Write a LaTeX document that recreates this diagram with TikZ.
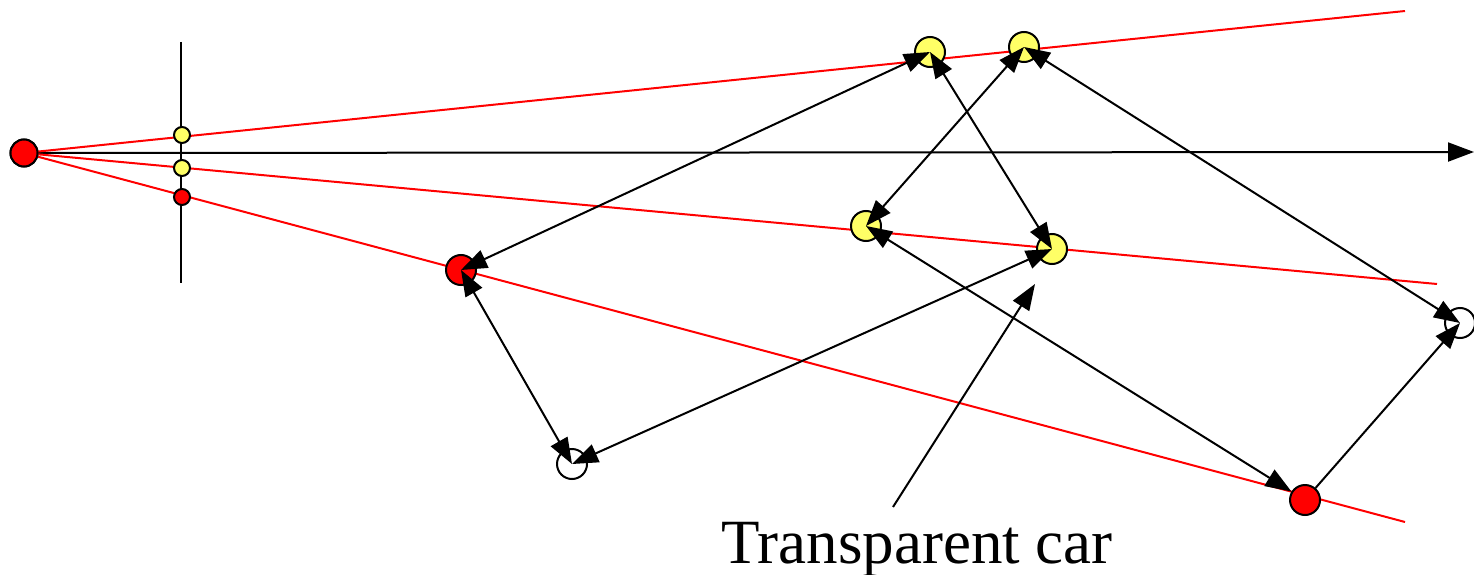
\documentclass[tikz,border=0pt]{standalone}
\usepackage{fontspec}
\setmainfont{Liberation Serif}
\usetikzlibrary{arrows.meta}
\definecolor{ylw}{RGB}{255,255,102}
\begin{document}
\begin{tikzpicture}[x=1pt,y=-1pt,
  dot/.style={circle,draw=black,line width=2pt,inner sep=0pt,minimum size=#1},
  bigdot/.style={dot=30pt},
  redline/.style={red,line width=2pt},
  blk/.style={black,line width=2pt},
  tip/.style={-{Triangle[length=26pt,width=19pt]}},
  dtip/.style={{Triangle[length=26pt,width=19pt]}-{Triangle[length=26pt,width=19pt]}}]
\useasboundingbox (0,0) rectangle (1474,575);
% coordinates
\coordinate (vtop) at (181,42);
\coordinate (vbot) at (181,283);
\coordinate (axend) at (1474,152);
\coordinate (r1) at (1405,11);
\coordinate (r2) at (1437,284);
\coordinate (r3) at (1405,522);
\coordinate (ptrs) at (893,507);
\coordinate (ptre) at (1035,284);
% lines
\draw[blk] (vtop) -- (vbot);
\node[dot=27pt,fill=red] (eye) at (24,153) {};
\draw[blk,tip] (eye.center) -- (axend);
\draw[redline] (eye.center) -- (r1);
\draw[redline] (eye.center) -- (r2);
\draw[redline] (eye.center) -- (r3);
\node[dot=27pt,fill=red] (eye) at (24,153) {};
% projection points
\node[dot=16pt,fill=ylw] (p1) at (182,135) {};
\node[dot=16pt,fill=ylw] (p2) at (182,168) {};
\node[dot=16pt,fill=red] (p3) at (182,197) {};
% objects
\node[bigdot,fill=ylw] (y1) at (930,52) {};
\node[bigdot,fill=ylw] (y2) at (1024,47) {};
\node[bigdot,fill=ylw] (y3) at (866,226) {};
\node[bigdot,fill=ylw] (y4) at (1052,249) {};
\node[bigdot,fill=red] (c1) at (461,270) {};
\node[bigdot,fill=red] (c2) at (1305,500) {};
\node[bigdot,fill=white] (w1) at (572,464) {};
\node[bigdot,fill=white] (w2) at (1460,323) {};
% arrows
\draw[blk,dtip] (y1.center) -- (c1.center);
\draw[blk,dtip] (y1.center) -- (y4.center);
\draw[blk,dtip] (y2.center) -- (y3.center);
\draw[blk,dtip] (y2.center) -- (w2.center);
\draw[blk,dtip] (y3.center) -- (c2);
\draw[blk,dtip] (y4.center) -- (w1.center);
\draw[blk,dtip] (c1.center) -- (w1.center);
\draw[blk,tip] (c2) -- (w2.center);
\draw[blk,tip] (ptrs) -- (ptre);
\node[font=\fontsize{63}{70}\selectfont,anchor=base,inner sep=0pt] (lbl) at (917,563) {Transparent car};
\end{tikzpicture}
\end{document}
